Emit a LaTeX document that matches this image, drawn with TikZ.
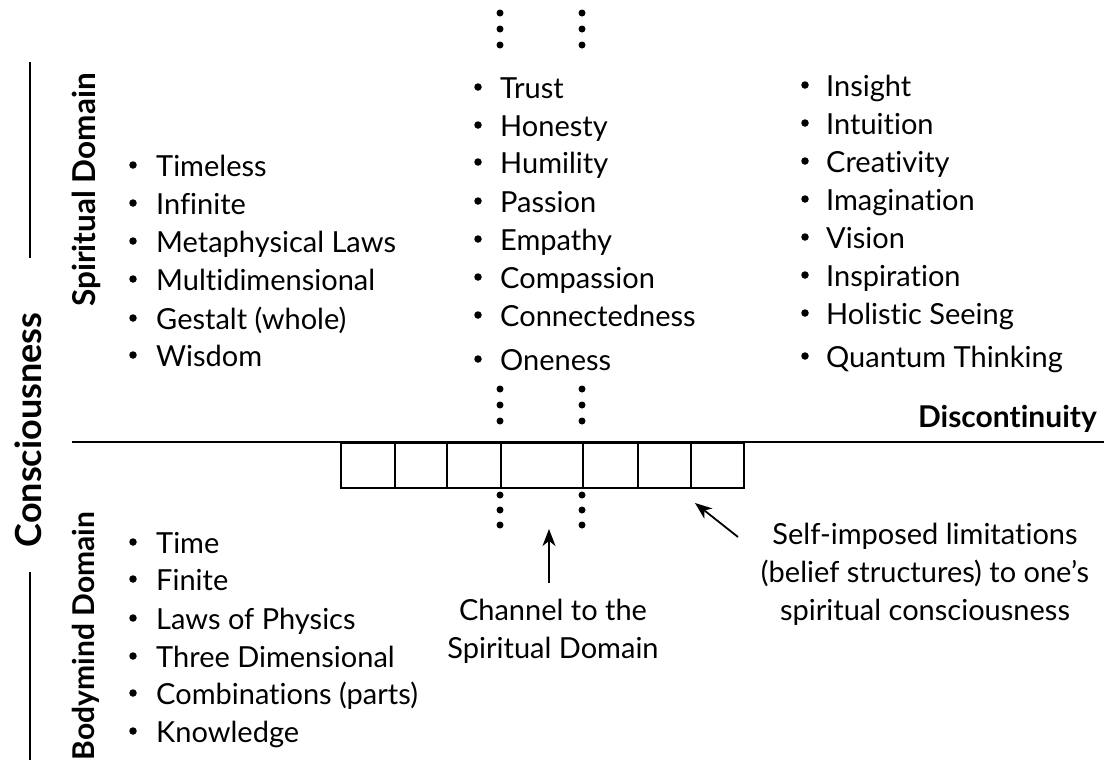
\documentclass[tikz,border=0pt]{standalone}
\usepackage{fontspec}
\setmainfont{Lato}[Ligatures={NoCommon,NoRare},Contextuals=NoAlternate,RawFeature={-liga;-clig;-dlig;-calt}]
\usetikzlibrary{arrows.meta}
\tikzset{
  itm/.style={anchor=base west, inner sep=0pt, font=\fontsize{29}{38}\selectfont},
  lbl/.style={inner sep=0pt, font=\fontsize{29}{38}\selectfont, align=center},
  bold/.style={inner sep=0pt, font=\fontsize{31.5}{36}\selectfont\bfseries},
  rule/.style={line width=2pt},
  cell/.style={draw, line width=2pt, minimum height=45pt, inner sep=0pt, anchor=north west},
  dot/.style={circle, fill=black, inner sep=0pt, minimum size=7pt},
  bdot/.style={circle, fill=black, inner sep=0pt, minimum size=7.5pt},
  arr/.style={line width=1.8pt, -{Stealth[length=17pt,width=13pt,inset=5pt]}}
}
\begin{document}
\begin{tikzpicture}[x=1pt,y=-1pt]
\useasboundingbox (0,0) rectangle (1104,761);
% left labels and rules
\draw[rule] (30,62) coordinate (ua) -- (30,258) coordinate (ub);
\draw[rule] (30,572) coordinate (la) -- (30,760) coordinate (lb);
\node[bold, rotate=90, font=\fontsize{36}{40}\selectfont\bfseries] (cons) at (28,430) {Consciousness};
\node[bold, rotate=90] (spd) at (86,190) {Spiritual Domain};
\node[bold, rotate=90, font=\fontsize{30}{36}\selectfont\bfseries] (bmd) at (86,636) {Bodymind Domain};
% main line
\coordinate (hl) at (72,442);
\coordinate (hr) at (1104,442);
\draw[rule] (hl) -- (hr);
% cells
\node[cell, minimum width=54pt] (c1) at (340,442) {};
\node[cell, minimum width=52pt] (c2) at (394,442) {};
\node[cell, minimum width=54pt] (c3) at (446,442) {};
\node[cell, minimum width=82pt] (c4) at (500,442) {};
\node[cell, minimum width=55pt] (c5) at (582,442) {};
\node[cell, minimum width=53pt] (c6) at (637,442) {};
\node[cell, minimum width=53pt] (c7) at (690,442) {};
\node[bold, font=\fontsize{30}{36}\selectfont\bfseries, anchor=base east] (disc) at (1097,427) {Discontinuity};
% dots
\foreach \x/\n in {500/a,582/b}{
  \foreach \y/\m in {13/1,29/2,45/3,389/4,405/5,421/6,495/7,510/8,525/9}{
    \node[dot] (d\n\m) at (\x,\y) {};
  }
}
% left column (upper and lower)
\foreach \n/\y/\t in {s1/176/{Timeless}, s2/214/{Infinite}, s3/252/{Metaphysical Laws},
  s4/290/{Multidimensional}, s5/329/{Gestalt (whole)}, s6/366/{Wisdom},
  b1/553/{Time}, b2/590/{Finite}, b3/629/{Laws of Physics},
  b4/667/{Three Dimensional}, b5/704/{Combinations (parts)}, b6/742/{Knowledge}}{
  \node[bdot] (\n d) at (133,\y-11) {};
  \node[itm] (\n) at (156,\y) {\t};
}
% middle
\foreach \n/\y/\t in {m1/98/{Trust}, m2/136/{Honesty}, m3/173/{Humility}, m4/212/{Passion},
  m5/250/{Empathy}, m6/288/{Compassion}, m7/326/{Connectedness}, m8/370/{Oneness}}{
  \node[bdot] (\n d) at (478,\y-11) {};
  \node[itm] (\n) at (500,\y) {\t};
}
% right
\foreach \n/\y/\t in {r1/96/{Insight}, r2/134/{Intuition}, r3/172/{Creativity}, r4/210/{Imagination},
  r5/248/{Vision}, r6/286/{Inspiration}, r7/324/{Holistic Seeing}, r8/367/{Quantum Thinking}}{
  \node[bdot] (\n d) at (805,\y-11) {};
  \node[itm] (\n) at (826,\y) {\t};
}
% annotations
\node[lbl, anchor=base] (chan) at (553,658) {Channel to the\\Spiritual Domain};
\node[lbl, anchor=base] (self) at (925,620) {Self-imposed limitations\\(belief structures) to one’s\\spiritual consciousness};
\coordinate (chtip) at (549,529);
\coordinate (chtail) at (549,583);
\draw[arr] (chtail) -- (chtip);
\coordinate (stail) at (738,537);
\coordinate (stip) at (695,503);
\draw[arr] (stail) -- (stip);
\end{tikzpicture}
\end{document}
